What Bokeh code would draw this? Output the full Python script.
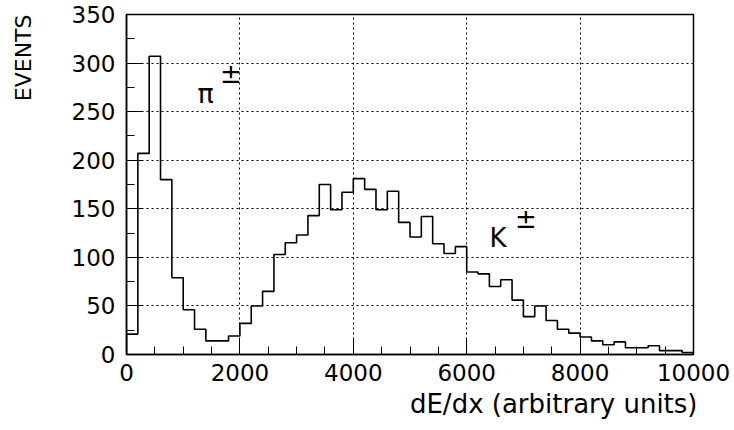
import math
from bokeh.plotting import figure
from bokeh.models import Range1d, FixedTicker, Label, Title
from bokeh.embed import file_html
from bokeh.resources import INLINE

# ---- data ----
bin_lo = 0
bin_width = 200
counts = [21, 207, 307, 180, 79, 46, 26, 14, 14, 19,
          32, 50, 65, 103, 115, 123, 143, 175, 149, 167,
          181, 170, 149, 168, 136, 121, 142, 114, 104, 111,
          85, 83, 70, 77, 56, 39, 50, 35, 26, 22,
          18, 14, 10, 13, 7, 7, 9, 4, 4, 2]
x_major = [0, 2000, 4000, 6000, 8000, 10000]
x_minor = [500 * i for i in range(21)]
y_major = [0, 50, 100, 150, 200, 250, 300, 350]
y_minor = [25 * i for i in range(15)]
x_title = "dE/dx (arbitrary units)"
y_title = "EVENTS"

FONT = "DejaVu Sans"

p = figure(width=734, height=430, output_backend="svg", toolbar_location=None,
           x_range=Range1d(0, 10000), y_range=Range1d(0, 350),
           min_border_left=126, min_border_right=41, min_border_top=14, min_border_bottom=76)
p.background_fill_color = "white"
p.border_fill_color = "white"
p.outline_line_color = "black"
p.outline_line_width = 1.5

# histogram outline
xs = [bin_lo]
ys = [0]
for i, c in enumerate(counts):
    a = bin_lo + i * bin_width
    xs += [a, a + bin_width]
    ys += [c, c]
xs.append(bin_lo + len(counts) * bin_width)
ys.append(0)
p.line(xs, ys, line_color="black", line_width=1.6)

# axes
for ax, maj, mnr in ((p.xaxis[0], x_major, x_minor), (p.yaxis[0], y_major, y_minor)):
    ax.ticker = FixedTicker(ticks=maj, minor_ticks=mnr)
    ax.major_tick_in = 16
    ax.major_tick_out = 0
    ax.minor_tick_in = 8
    ax.minor_tick_out = 0
    ax.axis_line_color = "black"
    ax.axis_line_width = 1.5
    ax.major_tick_line_color = "black"
    ax.minor_tick_line_color = "black"
    ax.major_tick_line_width = 1
    ax.minor_tick_line_width = 1
    ax.major_label_text_font = FONT
    ax.major_label_text_font_size = "23px"
    ax.major_label_text_color = "black"
p.xaxis.major_label_standoff = 9
p.yaxis.major_label_standoff = 11

# axis titles
p.add_layout(Title(text=x_title, align="right", text_font=FONT, text_font_size="26px",
                   text_font_style="normal", text_color="black", standoff=6, offset=-4),
             "below")
p.add_layout(Label(x=-20, y=340, x_units="screen", y_units="screen", text=y_title,
                   angle=math.pi / 2, text_font=FONT, text_font_size="22px",
                   text_align="right", text_baseline="alphabetic", text_color="black"),
             "left")

# grid
p.xgrid.ticker = FixedTicker(ticks=x_major)
p.ygrid.ticker = FixedTicker(ticks=y_major)
for g in (p.xgrid[0], p.ygrid[0]):
    g.grid_line_color = "black"
    g.grid_line_dash = "2 3"
    g.grid_line_width = 1

# particle annotations
p.add_layout(Label(x=1250, y=269, text="\u03c0", text_font=FONT, text_font_size="27px",
                   text_baseline="alphabetic", text_color="black"))
p.add_layout(Label(x=1650, y=289, text="\u00b1", text_font=FONT, text_font_size="26px",
                   text_baseline="alphabetic", text_color="black"))
p.add_layout(Label(x=6400, y=120, text="K", text_font=FONT, text_font_size="26px",
                   text_baseline="alphabetic", text_color="black"))
p.add_layout(Label(x=6850, y=140, text="\u00b1", text_font=FONT, text_font_size="26px",
                   text_baseline="alphabetic", text_color="black"))

open("out.html", "w").write(file_html(p, INLINE))
